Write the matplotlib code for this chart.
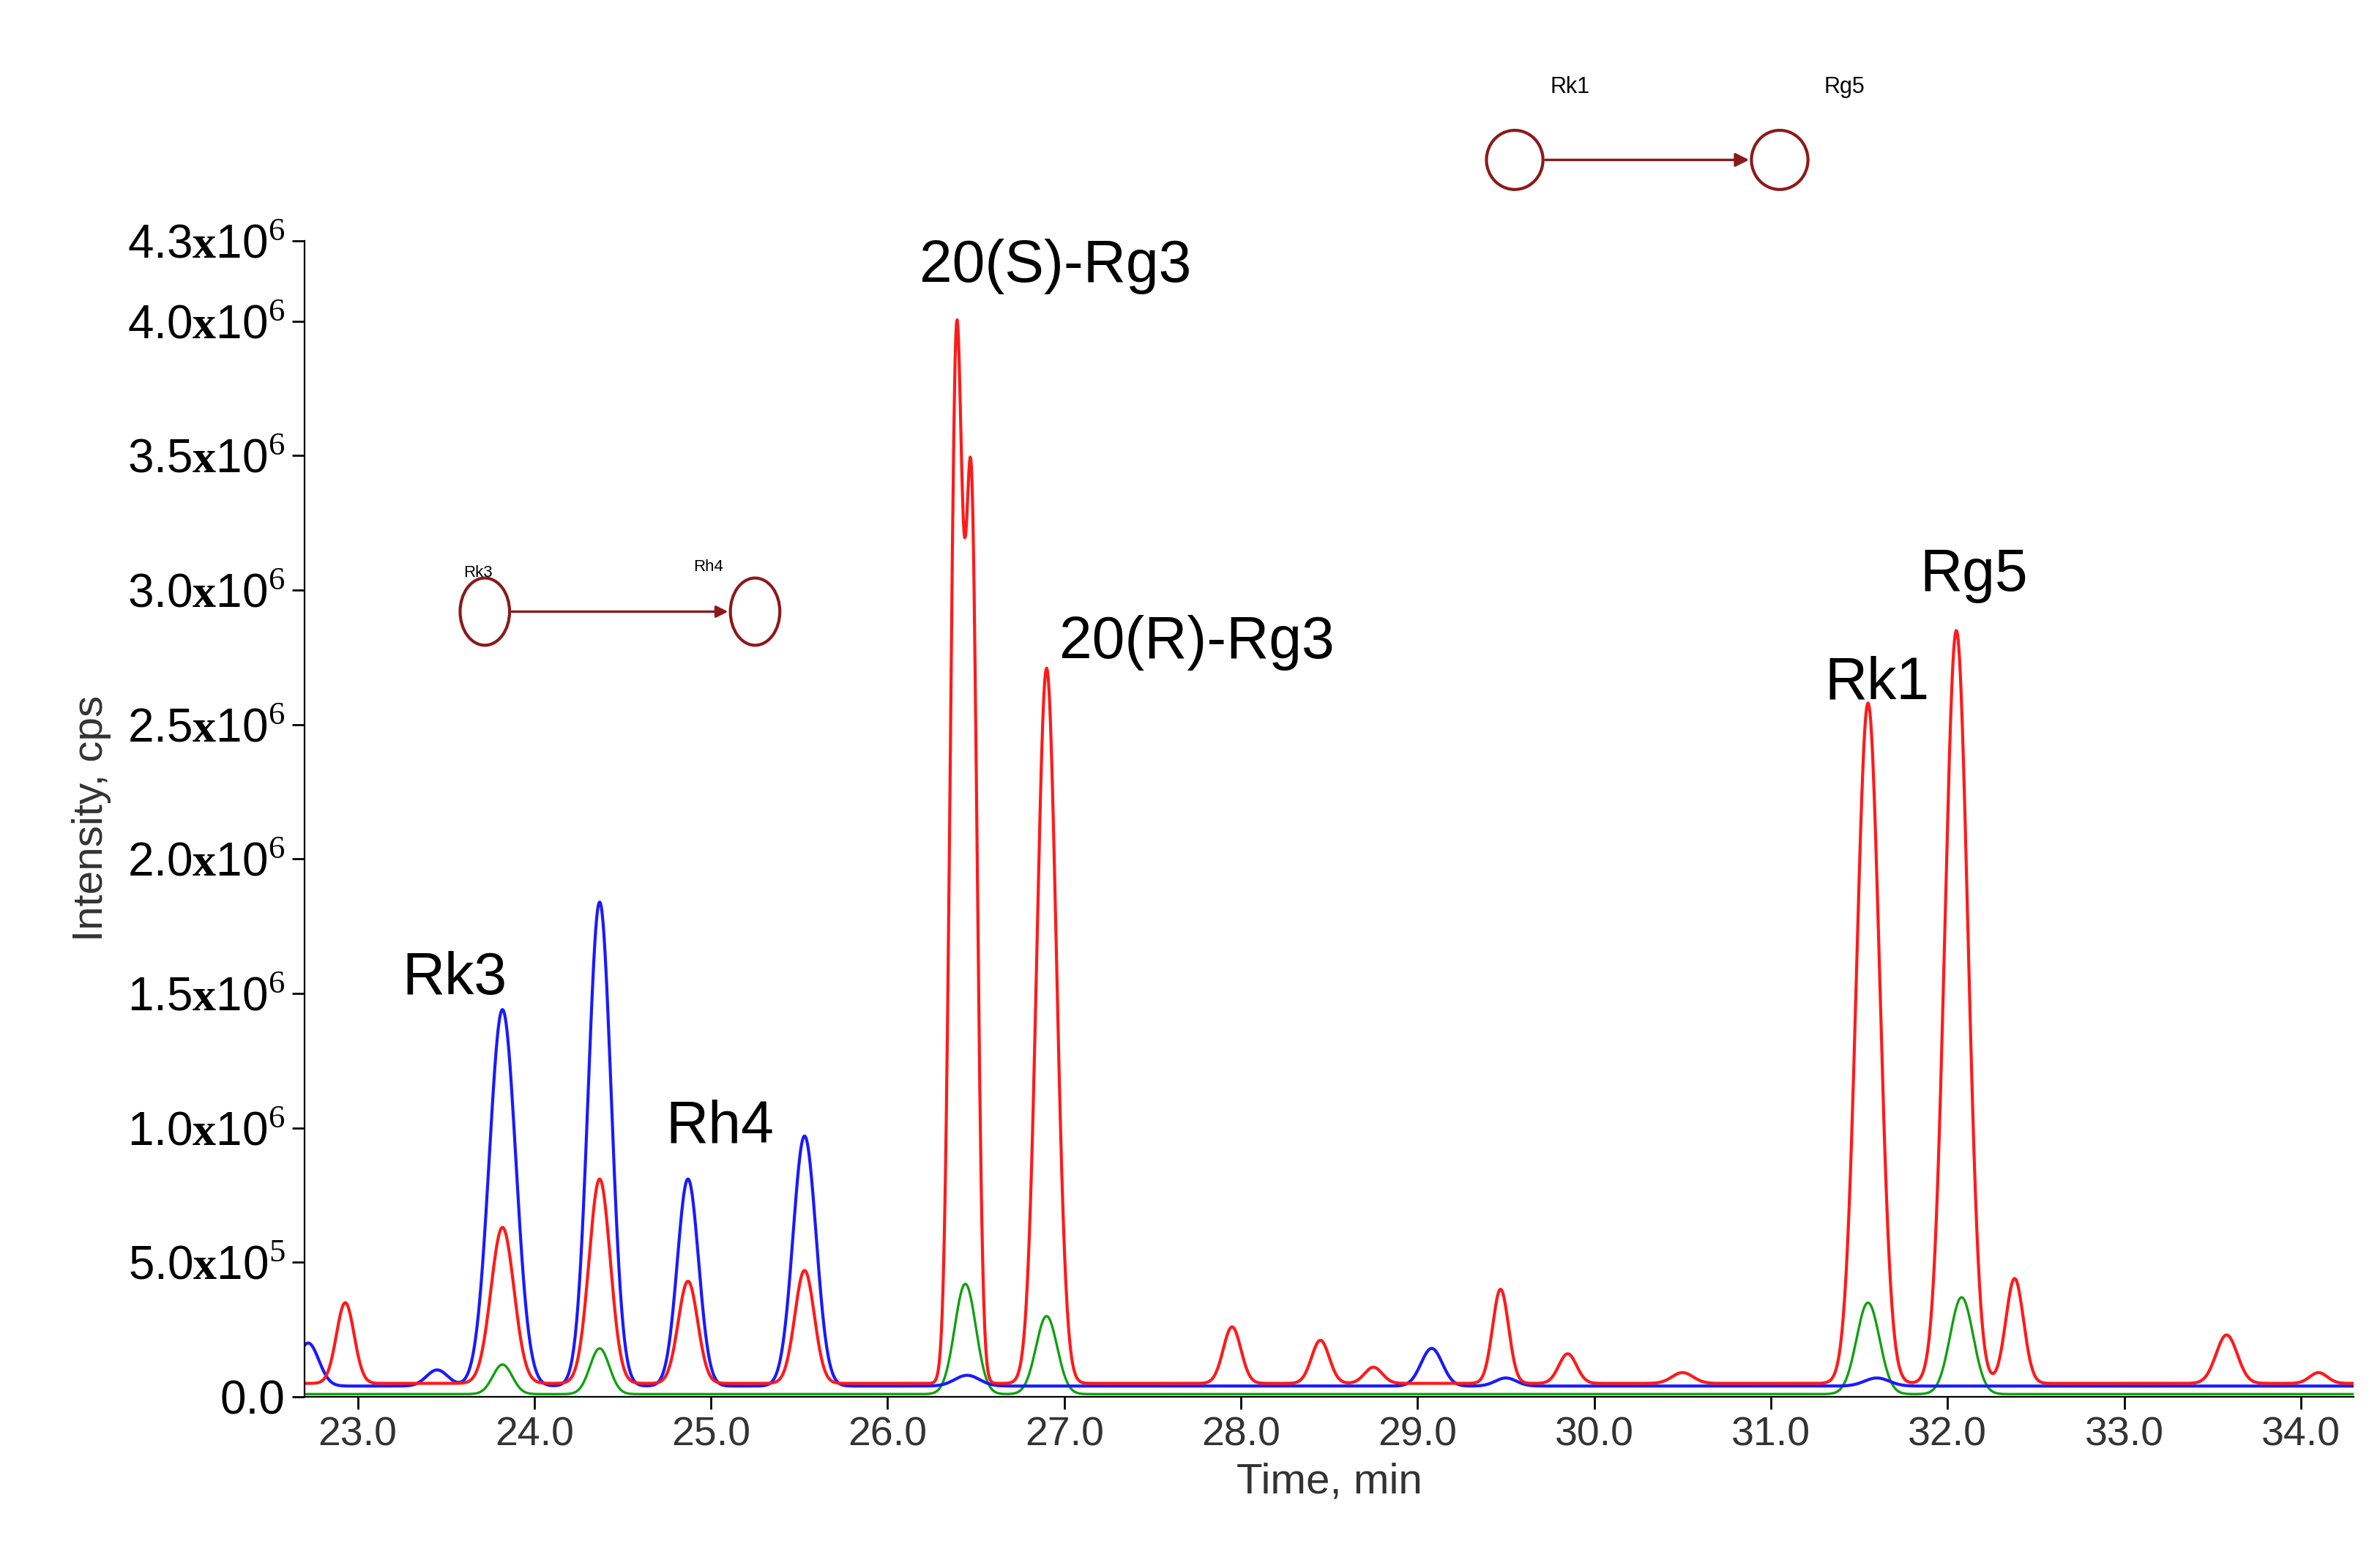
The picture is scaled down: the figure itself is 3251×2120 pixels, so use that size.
import numpy as np
import matplotlib
matplotlib.use("Agg")
import matplotlib.pyplot as plt
from matplotlib.patches import Ellipse, FancyArrowPatch

# peak tables (centre min, height cps, sigma min)
red_centers = [22.93, 23.82, 24.37, 24.87, 25.53, 26.39, 26.475, 26.90, 27.95, 28.45, 28.75, 29.47, 29.85, 30.5, 31.55, 32.05, 32.38, 33.58, 34.1]
red_heights = [0.30e6, 0.58e6, 0.76e6, 0.38e6, 0.42e6, 3.85e6, 3.2e6, 2.66e6, 0.21e6, 0.16e6, 0.06e6, 0.35e6, 0.11e6, 0.04e6, 2.53e6, 2.8e6, 0.39e6, 0.18e6, 0.04e6]
red_sigmas  = [0.05, 0.065, 0.06, 0.055, 0.055, 0.035, 0.032, 0.055, 0.05, 0.05, 0.05, 0.045, 0.05, 0.06, 0.065, 0.065, 0.05, 0.06, 0.05]
blue_centers = [22.72, 23.45, 23.82, 24.37, 24.87, 25.53, 26.45, 29.08, 29.5, 31.6]
blue_heights = [0.16e6, 0.06e6, 1.40e6, 1.80e6, 0.77e6, 0.93e6, 0.04e6, 0.14e6, 0.03e6, 0.03e6]
blue_sigmas  = [0.06, 0.06, 0.075, 0.065, 0.06, 0.065, 0.07, 0.06, 0.06, 0.07]
green_centers = [23.82, 24.37, 26.44, 26.90, 31.55, 32.08]
green_heights = [0.11e6, 0.17e6, 0.41e6, 0.29e6, 0.34e6, 0.36e6]
green_sigmas  = [0.055, 0.055, 0.06, 0.06, 0.065, 0.065]
red_base, blue_base, green_base = 0.05e6, 0.04e6, 0.01e6

labels = ["Rk3", "Rh4", "20(S)-Rg3", "20(R)-Rg3", "Rk1", "Rg5"]
label_x = [23.55, 25.05, 26.95, 27.75, 31.6, 32.15]
label_y = [1.45e6, 0.9e6, 4.1e6, 2.7e6, 2.55e6, 2.95e6]

yticks = [0.0, 0.5e6, 1.0e6, 1.5e6, 2.0e6, 2.5e6, 3.0e6, 3.5e6, 4.0e6, 4.3e6]
ytick_labels = ["0.0", r"5.0$\mathbf{x}$10$^{5}$", r"1.0$\mathbf{x}$10$^{6}$", r"1.5$\mathbf{x}$10$^{6}$",
                r"2.0$\mathbf{x}$10$^{6}$", r"2.5$\mathbf{x}$10$^{6}$", r"3.0$\mathbf{x}$10$^{6}$",
                r"3.5$\mathbf{x}$10$^{6}$", r"4.0$\mathbf{x}$10$^{6}$", r"4.3$\mathbf{x}$10$^{6}$"]
xticks = [23.0, 24.0, 25.0, 26.0, 27.0, 28.0, 29.0, 30.0, 31.0, 32.0, 33.0, 34.0]

plt.rcParams['font.family'] = ['Liberation Sans', 'DejaVu Sans']
plt.rcParams['mathtext.fontset'] = 'custom'
plt.rcParams['mathtext.rm'] = 'Liberation Serif'
plt.rcParams['mathtext.bf'] = 'Liberation Serif:bold'

t = np.linspace(22.7, 34.3, 3000)
def trace(c, h, s, b):
    y = np.full_like(t, b)
    for ci, hi, si in zip(c, h, s):
        y += hi * np.exp(-0.5 * ((t - ci) / si) ** 2)
    return y

fig = plt.figure(figsize=(16.255, 10.6), dpi=200)
ax = fig.add_axes([0.128, 0.10, 0.861, 0.745])
ax.plot(t, trace(green_centers, green_heights, green_sigmas, green_base), color='#10a010', lw=1.2)
ax.plot(t, trace(blue_centers, blue_heights, blue_sigmas, blue_base), color='#1a1aff', lw=1.5)
ax.plot(t, trace(red_centers, red_heights, red_sigmas, red_base), color='#ff1a1a', lw=1.5)

ax.set_xlim(22.7, 34.3)
ax.set_ylim(0, 4.3e6)
ax.set_yticks(yticks)
ax.set_yticklabels(ytick_labels, fontsize=23)
ax.set_xticks(xticks)
ax.set_xticklabels([f"{v:.1f}" for v in xticks], fontsize=20, color='#333333')
ax.tick_params(axis='y', length=6, width=1)
ax.tick_params(axis='x', length=6, width=1)
ax.spines['top'].set_visible(False)
ax.spines['right'].set_visible(False)
ax.set_xlabel("Time, min", fontsize=21, color='#333333', labelpad=4)
ax.set_ylabel("Intensity, cps", fontsize=21, color='#333333', labelpad=8)

for lab, x, y in zip(labels, label_x, label_y):
    ax.text(x, y, lab, fontsize=29, ha='center', va='bottom')

# structure annotations (simplified)
dark = '#8b1a1a'
ax.text(23.6, 3.05e6, "Rk3", fontsize=8)
ax.text(24.9, 3.07e6, "Rh4", fontsize=8)
ax.text(29.75, 4.85e6, "Rk1", fontsize=11, clip_on=False)
ax.text(31.3, 4.85e6, "Rg5", fontsize=11, clip_on=False)
ax.add_patch(Ellipse((23.72, 2.92e6), 0.28, 0.25e6, fill=False, ec=dark, lw=1.5))
ax.add_patch(Ellipse((25.25, 2.92e6), 0.28, 0.25e6, fill=False, ec=dark, lw=1.5))
ax.add_patch(FancyArrowPatch((23.85, 2.92e6), (25.12, 2.92e6), arrowstyle='-|>', mutation_scale=12, color=dark, lw=1.2))
for cx in (29.55, 31.05):
    ax.add_patch(Ellipse((cx, 4.6e6), 0.32, 0.22e6, fill=False, ec=dark, lw=1.5, clip_on=False))
ax.add_patch(FancyArrowPatch((29.7, 4.6e6), (30.9, 4.6e6), arrowstyle='-|>', mutation_scale=14, color=dark, lw=1.2, clip_on=False))

fig.savefig("out.png", dpi=200)
